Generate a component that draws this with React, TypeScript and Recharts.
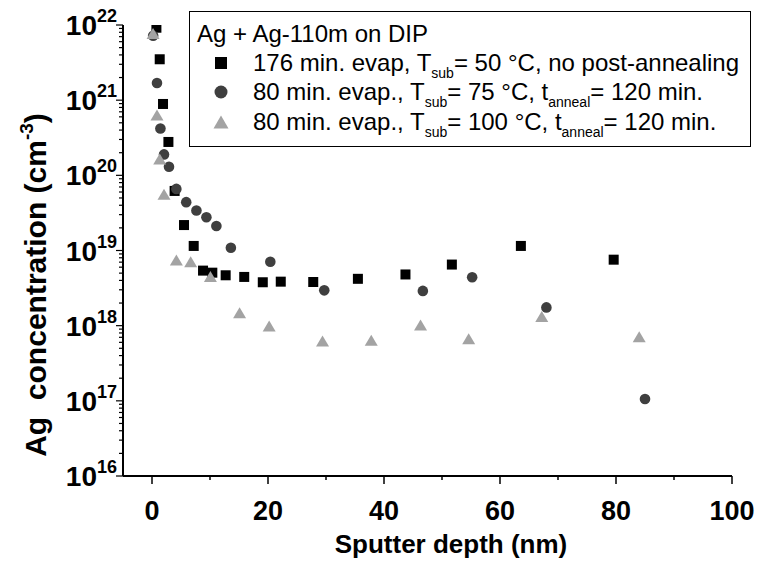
import { ScatterChart, Scatter, XAxis, YAxis, Legend } from 'recharts';

// depth in nm, concentration in cm^-3
const depth176 = [0.76, 1.33, 1.9, 2.83, 3.9, 5.52, 7.19, 8.8, 10.4, 12.7, 15.9, 19.1, 22.2, 27.8, 35.5, 43.7, 51.7, 63.6, 79.6];
const conc176 = [9.2e21, 3.5e21, 8.9e20, 2.78e20, 6.2e19, 2.18e19, 1.15e19, 5.4e18, 5.07e18, 4.68e18, 4.45e18, 3.78e18, 3.85e18, 3.81e18, 4.2e18, 4.8e18, 6.5e18, 1.15e19, 7.55e18];

const depth75 = [0.2, 0.86, 1.45, 2.07, 2.93, 4.2, 5.9, 7.66, 9.38, 11.1, 13.6, 20.4, 29.7, 46.7, 55.2, 68.0, 85.0];
const conc75 = [7.2e21, 1.69e21, 4.2e20, 1.9e20, 1.3e20, 6.6e19, 4.4e19, 3.4e19, 2.77e19, 2.12e19, 1.09e19, 7.1e18, 2.95e18, 2.9e18, 4.4e18, 1.75e18, 1.06e17];

const depth100 = [0.18, 0.86, 1.33, 2.07, 4.2, 6.67, 10.07, 15.1, 20.2, 29.4, 37.8, 46.3, 54.6, 67.2, 84.0];
const conc100 = [7.7e21, 6.35e20, 1.65e20, 5.6e19, 7.5e18, 7.1e18, 4.5e18, 1.49e18, 9.9e17, 6.25e17, 6.4e17, 1.02e18, 6.7e17, 1.32e18, 7.1e17];

const xTicks = [0, 10, 20, 30, 40, 50, 60, 70, 80, 90, 100];
const decades = [16, 17, 18, 19, 20, 21, 22];
const minorSteps = [2, 3, 4, 5, 6, 7, 8, 9];

const yTicks: number[] = [];
decades.forEach((d) => {
  yTicks.push(Math.pow(10, d));
  if (d < 22) minorSteps.forEach((m) => yTicks.push(m * Math.pow(10, d)));
});

const toPoints = (xs: number[], ys: number[]) => xs.map((x, i) => ({ x, y: ys[i] }));
const data176 = toPoints(depth176, conc176);
const data75 = toPoints(depth75, conc75);
const data100 = toPoints(depth100, conc100);

const FONT = '"Liberation Sans", Arial, sans-serif';
const C_SQ = '#000000';
const C_CI = '#3f3f3f';
const C_TR = '#a3a3a3';

const Square = ({ cx, cy, s = 10 }: any) => (
  <rect x={cx - s / 2} y={cy - s / 2} width={s} height={s} fill={C_SQ} />
);
const Circle = ({ cx, cy, r = 5.3 }: any) => <circle cx={cx} cy={cy} r={r} fill={C_CI} />;
const Triangle = ({ cx, cy, w = 13, h = 11 }: any) => (
  <polygon
    points={`${cx},${cy - h / 2} ${cx - w / 2},${cy + h / 2} ${cx + w / 2},${cy + h / 2}`}
    fill={C_TR}
  />
);

const XTick = ({ x, y, payload }: any) => {
  const major = payload.value % 20 === 0;
  return (
    <g>
      <line x1={x} x2={x} y1={y} y2={y + (major ? 8 : 4)} stroke="#000" strokeWidth={1.5} />
      {major && (
        <text x={x} y={y + 44} textAnchor="middle" fontFamily={FONT} fontWeight="bold" fontSize={27} fill="#000">
          {payload.value}
        </text>
      )}
    </g>
  );
};

const YTick = ({ x, y, payload }: any) => {
  const v = payload.value;
  const exp = Math.round(Math.log10(v));
  const major = Math.abs(v - Math.pow(10, exp)) < v * 1e-6;
  return (
    <g>
      <line x1={x} x2={x - (major ? 7 : 4)} y1={y} y2={y} stroke="#000" strokeWidth={1.2} />
      {major && (
        <text x={x - 6} y={y + 10} textAnchor="end" fontFamily={FONT} fontWeight="bold" fontSize={28} fill="#000">
          10
          <tspan dy={-13} fontSize={18}>{exp}</tspan>
        </text>
      )}
    </g>
  );
};

const SUB = 14;

const LegendBox = () => (
  <svg width={563} height={137} style={{ display: 'block' }}>
    <rect x={0.5} y={0.5} width={561} height={135} fill="#fff" stroke="#000" strokeWidth={1} />
    <g fontFamily={FONT} fontSize={24} fill="#000">
      <text x={8} y={31}>Ag + Ag-110m on DIP</text>
      <Square cx={32} cy={52} s={12} />
      <text x={64} y={60}>
        176 min. evap, T<tspan dy={7} fontSize={SUB}>sub</tspan>
        <tspan dy={-7}>= 50 °C, no post-annealing</tspan>
      </text>
      <Circle cx={32} cy={81} r={6.5} />
      <text x={64} y={89}>
        80 min. evap., T<tspan dy={7} fontSize={SUB}>sub</tspan>
        <tspan dy={-7}>= 75 °C, t</tspan>
        <tspan dy={7} fontSize={SUB}>anneal</tspan>
        <tspan dy={-7}>= 120 min.</tspan>
      </text>
      <Triangle cx={32} cy={111} w={15} h={13} />
      <text x={64} y={119}>
        80 min. evap., T<tspan dy={7} fontSize={SUB}>sub</tspan>
        <tspan dy={-7}>= 100 °C, t</tspan>
        <tspan dy={7} fontSize={SUB}>anneal</tspan>
        <tspan dy={-7}>= 120 min.</tspan>
      </text>
    </g>
  </svg>
);

export default function App() {
  return (
    <div style={{ position: 'absolute', left: 0, top: 0, width: 758, height: 570, background: '#fff' }}>
      <ScatterChart width={758} height={570} margin={{ top: 25, right: 26, bottom: 0, left: 0 }}>
        <XAxis
          type="number"
          dataKey="x"
          domain={[-5, 100]}
          ticks={xTicks}
          interval={0}
          allowDataOverflow
          height={94}
          tickSize={0}
          tickMargin={0}
          tickLine={false}
          axisLine={{ stroke: '#000', strokeWidth: 2 }}
          tick={<XTick />}
          label={{
            content: () => (
              <text x={451} y={553} textAnchor="middle" fontFamily={FONT} fontWeight="bold" fontSize={26} fill="#000">
                Sputter depth (nm)
              </text>
            ),
          }}
        />
        <YAxis
          type="number"
          dataKey="y"
          scale="log"
          domain={[1e16, 1e22]}
          ticks={yTicks}
          interval={0}
          allowDataOverflow
          width={123}
          tickSize={0}
          tickMargin={0}
          tickLine={false}
          axisLine={{ stroke: '#000', strokeWidth: 2 }}
          tick={<YTick />}
          label={{
            content: () => (
              <text
                x={0}
                y={0}
                transform="translate(46, 285) rotate(-90)"
                textAnchor="middle"
                fontFamily={FONT}
                fontWeight="bold"
                fontSize={30}
                fill="#000"
              >
                {'Ag\u00A0 concentration (cm'}
                <tspan dy={-13} fontSize={19}>-3</tspan>
                <tspan dy={13}>)</tspan>
              </text>
            ),
          }}
        />
        <Legend
          layout="vertical"
          align="center"
          verticalAlign="middle"
          content={<LegendBox />}
          wrapperStyle={{ position: 'absolute', left: 189, top: 11, width: 563, height: 137 }}
        />
        <Scatter name="176" data={data176} shape={<Square />} isAnimationActive={false} />
        <Scatter name="75" data={data75} shape={<Circle />} isAnimationActive={false} />
        <Scatter name="100" data={data100} shape={<Triangle />} isAnimationActive={false} />
      </ScatterChart>
    </div>
  );
}
